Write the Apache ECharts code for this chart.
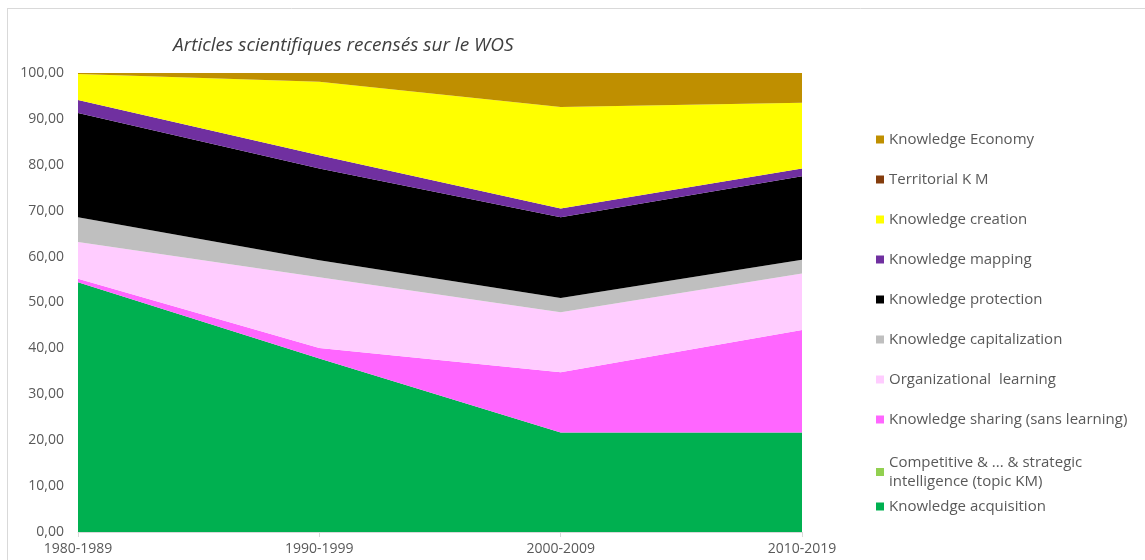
<!DOCTYPE html>
<html>
<head>
<meta charset="utf-8">
<script src="https://cdn.jsdelivr.net/npm/echarts@6/dist/echarts.min.js"></script>
<style>
html,body{margin:0;padding:0;background:#fff;}
#c{width:1145px;height:560px;}
</style>
</head>
<body>
<div id="c"></div>
<script>
const categories = ['1980-1989', '1990-1999', '2000-2009', '2010-2019'];
const yTicks = [0, 10, 20, 30, 40, 50, 60, 70, 80, 90, 100];

// stacking order bottom -> top
const acquisition    = [54.4, 37.8, 21.7, 21.7];
const competitive    = [0.0, 0.0, 0.0, 0.0];
const sharing        = [0.8, 2.3, 13.1, 22.3];
const organizational = [8.0, 15.4, 13.1, 12.3];
const capitalization = [5.4, 3.7, 3.1, 3.0];
const protection     = [22.7, 20.0, 17.6, 18.2];
const mapping        = [2.8, 2.9, 1.9, 1.7];
const creation       = [5.7, 16.0, 22.1, 14.3];
const territorial    = [0.0, 0.0, 0.0, 0.0];
const economy        = [0.2, 1.9, 7.4, 6.5];

const seriesNames = [
  'Knowledge acquisition',
  'Competitive & ... & strategic\nintelligence (topic KM)',
  'Knowledge sharing (sans learning)',
  'Organizational  learning',
  'Knowledge capitalization',
  'Knowledge protection',
  'Knowledge mapping',
  'Knowledge creation',
  'Territorial K M',
  'Knowledge Economy'
];
const seriesData = [acquisition, competitive, sharing, organizational, capitalization,
  protection, mapping, creation, territorial, economy];
const colors = ['#00B050', '#92D050', '#FF66FF', '#FFCCFF', '#BFBFBF',
  '#000000', '#7030A0', '#FFFF00', '#843C0C', '#BF8F00'];

const chart = echarts.init(document.getElementById('c'), null, {renderer: 'canvas'});

const series = seriesNames.map((n, i) => ({
  name: n,
  type: 'line',
  stack: 'total',
  data: seriesData[i],
  symbol: 'none',
  showSymbol: false,
  lineStyle: {width: 0},
  areaStyle: {color: colors[i], opacity: 1},
  itemStyle: {color: colors[i]},
  z: 2
}));

const legendText = {color: '#595959', fontSize: 15, fontFamily: 'Open Sans', lineHeight: 19};
const legendBase = {
  orient: 'vertical', left: 876, itemWidth: 8, itemHeight: 8, icon: 'rect',
  textStyle: legendText, itemGap: 21, selectedMode: false, padding: 0
};

chart.setOption({
  animation: false,
  backgroundColor: '#ffffff',
  title: {
    text: 'Articles scientifiques recensés sur le WOS',
    left: 168, top: 31,
    textStyle: {fontFamily: 'Open Sans', fontStyle: 'italic', fontWeight: 'normal', fontSize: 19, color: '#404040'}
  },
  grid: {left: 78, right: 343, top: 73, bottom: 28},
  legend: [
    Object.assign({}, legendBase, {
      top: 130,
      data: seriesNames.slice(2).reverse()
    }),
    Object.assign({}, legendBase, {
      top: 453,
      data: [seriesNames[1]]
    }),
    Object.assign({}, legendBase, {
      top: 497,
      data: [seriesNames[0]]
    })
  ],
  xAxis: {
    type: 'category',
    data: categories,
    boundaryGap: false,
    axisLine: {lineStyle: {color: '#D9D9D9'}},
    axisTick: {show: true, alignWithLabel: true, length: 5, lineStyle: {color: '#D9D9D9'}},
    axisLabel: {color: '#595959', fontSize: 14, fontFamily: 'Open Sans', margin: 10}
  },
  yAxis: {
    type: 'value',
    min: yTicks[0], max: yTicks[yTicks.length - 1], interval: 10,
    axisLine: {show: false},
    axisTick: {show: false},
    splitLine: {show: false},
    axisLabel: {
      color: '#595959', fontSize: 14, fontFamily: 'Open Sans', margin: 14,
      formatter: v => v.toFixed(2).replace('.', ',')
    }
  },
  graphic: [
    {type: 'line', shape: {x1: 7, y1: 8.5, x2: 1145, y2: 8.5}, style: {stroke: '#D9D9D9', lineWidth: 1}},
    {type: 'line', shape: {x1: 7.5, y1: 8, x2: 7.5, y2: 560}, style: {stroke: '#D9D9D9', lineWidth: 1}}
  ],
  series: series
});
</script>
</body>
</html>
